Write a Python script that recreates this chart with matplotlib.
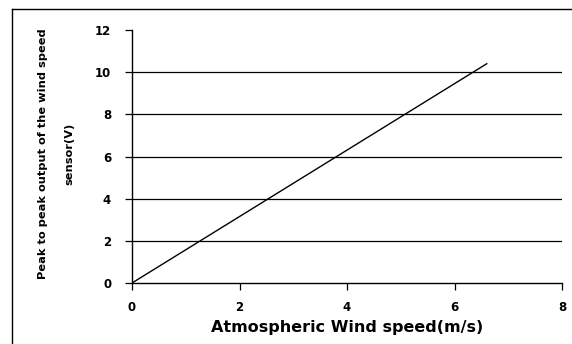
import matplotlib
matplotlib.use("Agg")
import matplotlib.pyplot as plt
from matplotlib.lines import Line2D

# Measured response of the wind speed sensor
wind_speed = [0.0, 6.6]          # m/s
peak_to_peak = [0.0, 10.4]       # V

x_ticks = [0, 2, 4, 6, 8]
y_ticks = [0, 2, 4, 6, 8, 10, 12]
grid_levels = [2, 4, 6, 8, 10]

plt.rcParams['font.family'] = ['DejaVu Sans']

fig = plt.figure(figsize=(5.72, 3.44), dpi=100)
ax = fig.add_axes([132/572, 1 - 283/344, (562 - 132)/572, (283 - 30)/344])

for lvl in grid_levels:
    ax.axhline(lvl, color='black', lw=0.9, zorder=1)

ax.plot(wind_speed, peak_to_peak, color='black', lw=1.0, zorder=2)

ax.set_xlim(0, 8)
ax.set_ylim(0, 12)
ax.set_xticks(x_ticks)
ax.set_yticks(y_ticks)
ax.tick_params(direction='out', length=5, width=0.9, labelsize=8.5)
ax.tick_params(axis='y', pad=10)
ax.tick_params(axis='x', pad=8)
for lab in ax.get_xticklabels() + ax.get_yticklabels():
    lab.set_fontweight('bold')

for side in ('top', 'right'):
    ax.spines[side].set_visible(False)
for side in ('left', 'bottom'):
    ax.spines[side].set_linewidth(1.0)

ax.set_xlabel('Atmospheric Wind speed(m/s)', fontsize=11.5, fontweight='bold', labelpad=4)
ax.set_ylabel('Peak to peak output of the wind speed\nsensor(V)', fontsize=8.2,
              fontweight='bold', linespacing=3.0)
ax.yaxis.set_label_coords(-0.135, 0.51)

# Outer chart frame
fig.add_artist(Line2D([12/572, 12/572], [0, 1 - 9/344], transform=fig.transFigure,
                      color='black', lw=1.0))
fig.add_artist(Line2D([12/572, 1], [1 - 9/344, 1 - 9/344], transform=fig.transFigure,
                      color='black', lw=1.0))

fig.savefig('out.png', dpi=100)
